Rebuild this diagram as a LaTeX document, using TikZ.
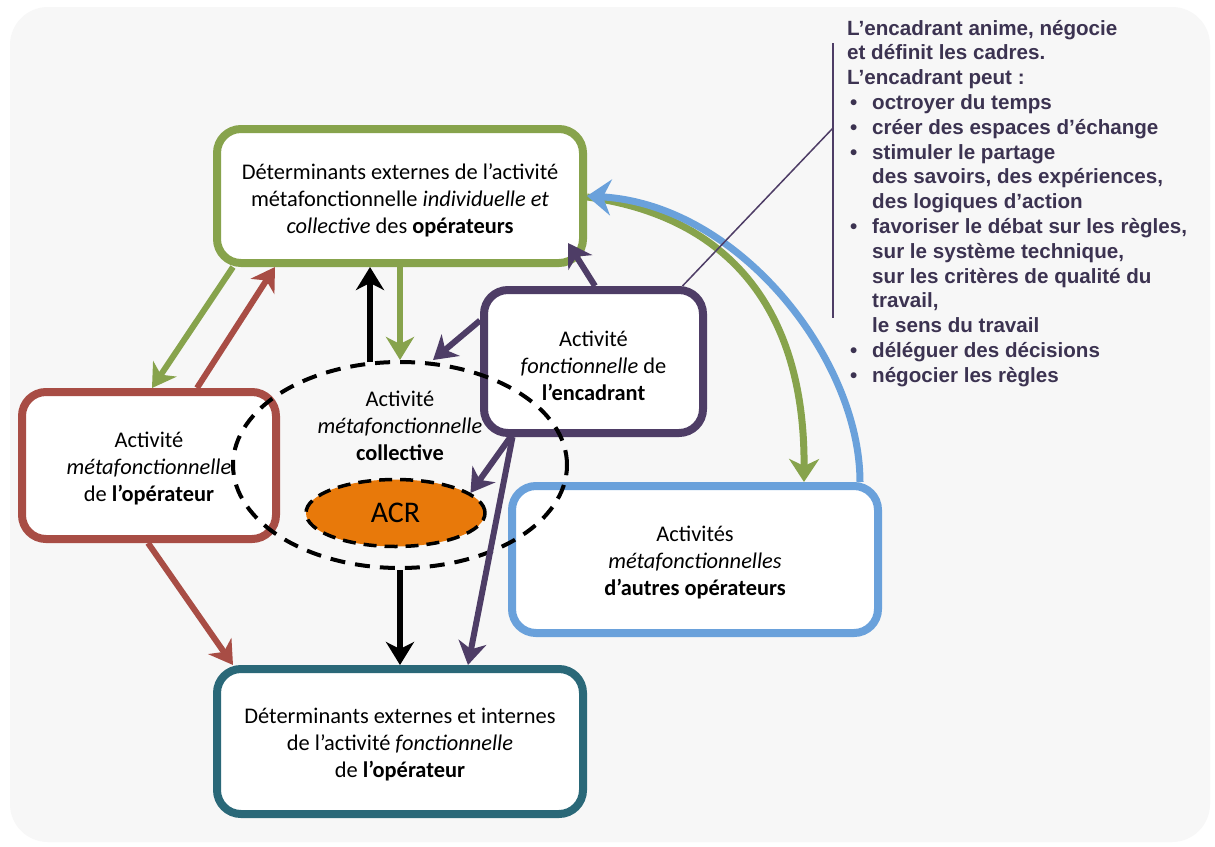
\documentclass[tikz,border=0pt]{standalone}
\usepackage{fontspec}
\setmainfont{Carlito}
\newfontfamily\arialf{Liberation Sans}
\usetikzlibrary{arrows.meta,shapes.geometric}
\definecolor{bgc}{HTML}{F7F7F7}
\definecolor{grn}{HTML}{87A34C}
\definecolor{rdc}{HTML}{A84D45}
\definecolor{pur}{HTML}{4E3D66}
\definecolor{blu}{HTML}{6AA1DB}
\definecolor{tea}{HTML}{2A6878}
\definecolor{org}{HTML}{E8790A}
\definecolor{txc}{HTML}{3C3351}
\newcommand\bxf{\fontsize{22.4}{27}\selectfont}
\newcommand\rtf{\arialf\bfseries\fontsize{20.6}{24.8}\selectfont}
\newcommand\bul{\hspace*{3pt}\makebox[22pt][l]{•}}
\newcommand\cnt{\hspace*{25pt}}
\begin{document}
\begin{tikzpicture}[x=1pt,y=-1pt,
  box/.style={draw, line width=8pt, rounded corners=24pt, fill=white, inner sep=0pt},
  txt/.style={align=center, font=\bxf, text=black, inner sep=0pt},
  arr/.style={line width=6pt, -{Stealth[length=23pt,width=28pt,inset=7pt]}},
  carr/.style={line width=7pt, -{Stealth[length=24pt,width=36pt,inset=8pt]}}]
\useasboundingbox (0,0) rectangle (1215,846);
\fill[white] (0,0) rectangle (1215,846);
\fill[bgc, rounded corners=38pt] (10,7) rectangle (1210,842);
% boxes
\node[box, draw=grn, minimum width=366pt, minimum height=134pt] (top) at (400,196) {};
\node[box, draw=rdc, minimum width=254pt, minimum height=147pt] (op) at (149,465.5) {};
\node[box, draw=pur, minimum width=219pt, minimum height=143pt] (enc) at (593.5,361.5) {};
\node[box, draw=blu, minimum width=366pt, minimum height=147pt] (aut) at (695,559.5) {};
\node[box, draw=tea, minimum width=366pt, minimum height=145pt] (bot) at (400,741.5) {};
% ellipses
\node[ellipse, draw, line width=4pt, dash pattern=on 15pt off 10pt, minimum width=334pt, minimum height=206pt, inner sep=0pt] (coll) at (400,465) {};
\node[ellipse, draw, fill=org, line width=3.5pt, dash pattern=on 13pt off 8pt, minimum width=179pt, minimum height=67pt, inner sep=0pt, font=\fontsize{30}{36}\selectfont] (acr) at (395.5,513) {ACR};
% straight arrows
\draw[arr, grn] ([xshift=-167pt]top.south) -- ([xshift=3pt]op.north);
\draw[arr, rdc] ([xshift=48pt]op.north) -- ([xshift=-125pt]top.south);
\draw[arr, black] ([xshift=-30pt,yshift=-2pt]coll.north) -- ([xshift=-30pt]top.south);
\draw[arr, grn] (top.south) -- (coll.north);
\draw[arr, pur] ([xshift=1.5pt]enc.north) -- ([xshift=-19pt,yshift=24pt]top.south east);
\draw[arr, pur] ([yshift=41pt]enc.west) -- ([xshift=33pt]coll.north);
\draw[arr, pur] ([xshift=-83pt]enc.south) -- (acr.15);
\draw[arr, pur] ([xshift=-81pt]enc.south) -- ([xshift=68pt]bot.north);
\draw[arr, black] (coll.south) -- (bot.north);
\draw[arr, rdc] ([xshift=-1pt]op.south) -- ([xshift=-167pt]bot.north);
% curved arrows
\draw[carr, grn, -{Stealth[length=23pt,width=30pt,inset=7pt]}] ([yshift=-1pt]top.east) .. controls (720,215) and (805,300) .. ([xshift=109pt]aut.north);
\draw[carr, blu] ([xshift=165pt]aut.north) .. controls (860,360) and (740,205) .. (top.east);
% callout line
\coordinate (vtop) at (833,43);
\coordinate (vbot) at (833,318);
\coordinate (vjoin) at (833,128);
\draw[pur, line width=1.5pt] ([xshift=89pt]enc.north) -- (vjoin);
\draw[pur, line width=1.5pt] (vtop) -- (vbot);
% texts
\node[txt] (topT) at ([yshift=-4pt]top.center) {Déterminants externes de l’activité\\métafonctionnelle \textit{individuelle et}\\\textit{collective} des \textbf{opérateurs}};
\node[txt] (opT) at ([yshift=-3pt]op.center) {Activité\\\textit{métafonctionnelle}\\de \textbf{l’opérateur}};
\node[txt] (encT) at ([yshift=-4pt]enc.center) {Activité\\\textit{fonctionnelle} de\\\textbf{l’encadrant}};
\node[txt] (autT) at ([yshift=-3pt]aut.center) {Activités\\\textit{métafonctionnelles}\\\textbf{d’autres opérateurs}};
\node[txt] (botT) at ([yshift=-3pt]bot.center) {Déterminants externes et internes\\de l’activité \textit{fonctionnelle}\\de \textbf{l’opérateur}};
\node[txt] (collT) at (400,426) {Activité\\\textit{métafonctionnelle}\\\textbf{collective}};
\node[anchor=base west, inner sep=0pt, font=\rtf, text=txc] (note) at (847,35) {\begin{tabular}[t]{@{}l@{}}
L’encadrant anime, négocie\\
et définit les cadres.\\
L’encadrant peut :\\
\bul octroyer du temps\\
\bul créer des espaces d’échange\\
\bul stimuler le partage\\
\cnt des savoirs, des expériences,\\
\cnt des logiques d’action\\
\bul favoriser le débat sur les règles,\\
\cnt sur le système technique,\\
\cnt sur les critères de qualité du\\
\cnt travail,\\
\cnt le sens du travail\\
\bul déléguer des décisions\\
\bul négocier les règles
\end{tabular}};
\end{tikzpicture}
\end{document}
